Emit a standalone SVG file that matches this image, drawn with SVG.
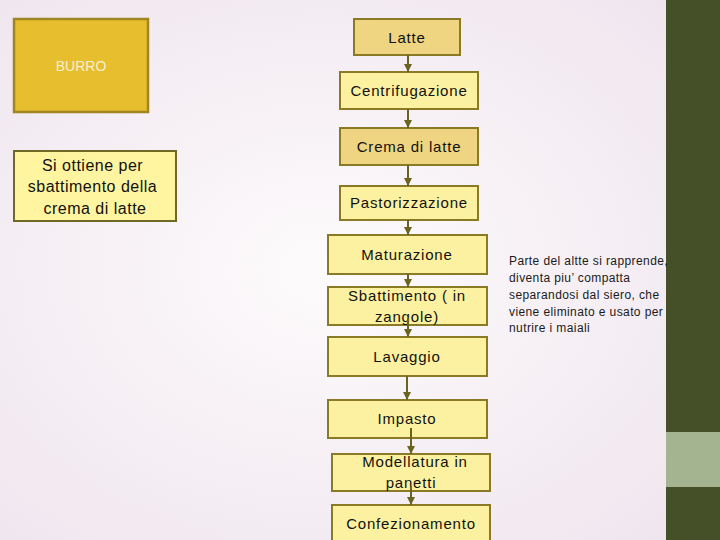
<svg xmlns="http://www.w3.org/2000/svg" width="720" height="540" viewBox="0 0 720 540">
<defs>
<radialGradient id="bg" cx="0.45" cy="0.5" r="0.75">
<stop offset="0" stop-color="#fdfbfc"/>
<stop offset="1" stop-color="#eee3ed"/>
</radialGradient>
<marker id="ah" viewBox="0 0 8 8" refX="8" refY="4" markerWidth="4" markerHeight="4" orient="auto" markerUnits="strokeWidth">
<path d="M0,0 L8,4 L0,8 Z" fill="#6b6420"/>
</marker>
<style>
.flow{stroke:#8a7a26;stroke-width:2}
.light{fill:#fcf1a0}
.dark{fill:#efd581}
.t{font-family:"Liberation Sans",Arial,sans-serif;font-size:15px;letter-spacing:0.8px;fill:#111;text-anchor:middle}
.c{stroke:#6b6420;stroke-width:2;fill:none;marker-end:url(#ah)}
.note{font-family:"Liberation Sans",Arial,sans-serif;font-size:12px;letter-spacing:0.4px;fill:#1a1a1a}
</style>
</defs>
<rect width="720" height="540" fill="url(#bg)"/>
<rect x="666" y="0" width="54" height="540" fill="#454f28"/>
<rect x="666" y="432" width="54" height="55" fill="#a4b490"/>

<g id="burro">
<rect x="14" y="19" width="134" height="93" fill="#e6be2e" stroke="#a08520" stroke-width="2.5"/>
<text x="81" y="71" font-family="Liberation Sans,Arial,sans-serif" font-size="14" fill="#f8f0d0" text-anchor="middle">BURRO</text>
</g>
<g id="si-ottiene">
<rect x="14" y="151" width="162" height="70" fill="#fff5a0" stroke="#6e6a26" stroke-width="2"/>
<text font-family="Liberation Sans,Arial,sans-serif" font-size="16" letter-spacing="0.5" fill="#111" text-anchor="middle">
<tspan x="95" y="171">Si ottiene per</tspan>
<tspan x="95" y="192">sbattimento della</tspan>
<tspan x="95" y="214">crema di latte</tspan>
</text>
</g>

<g id="latte"><rect class="flow dark" x="354" y="19" width="106" height="36"/><text class="t" x="407" y="43">Latte</text></g>
<g id="centrifugazione"><rect class="flow light" x="340" y="72" width="138" height="37"/><text class="t" x="409" y="96">Centrifugazione</text></g>
<g id="crema"><rect class="flow dark" x="340" y="128" width="138" height="37"/><text class="t" x="409" y="152">Crema di latte</text></g>
<g id="pastorizzazione"><rect class="flow light" x="340" y="186" width="138" height="34"/><text class="t" x="409" y="208">Pastorizzazione</text></g>
<g id="maturazione"><rect class="flow light" x="328" y="235" width="159" height="39"/><text class="t" x="407" y="260">Maturazione</text></g>
<g id="sbattimento"><rect class="flow light" x="328" y="287" width="159" height="38"/><text class="t"><tspan x="407" y="301">Sbattimento ( in</tspan><tspan x="407" y="322">zangole)</tspan></text></g>
<g id="lavaggio"><rect class="flow light" x="328" y="337" width="159" height="39"/><text class="t" x="407" y="362">Lavaggio</text></g>
<g id="impasto"><rect class="flow light" x="328" y="400" width="159" height="38"/><text class="t" x="407" y="424">Impasto</text></g>
<g id="modellatura"><rect class="flow light" x="332" y="454" width="158" height="37"/><text class="t"><tspan x="415" y="467">Modellatura in</tspan><tspan x="411" y="488">panetti</tspan></text></g>
<g id="confezionamento"><rect class="flow light" x="332" y="505" width="158" height="40"/><text class="t" x="411" y="529">Confezionamento</text></g>

<g id="connectors">
<line class="c" x1="408" y1="55" x2="408" y2="72"/>
<line class="c" x1="408" y1="109" x2="408" y2="128"/>
<line class="c" x1="408" y1="165" x2="408" y2="186"/>
<line class="c" x1="408" y1="220" x2="408" y2="235"/>
<line class="c" x1="408" y1="274" x2="408" y2="287"/>
<line class="c" x1="408" y1="318" x2="408" y2="337"/>
<line class="c" x1="407" y1="376" x2="407" y2="400"/>
<line class="c" x1="411" y1="428" x2="411" y2="454"/>
<line class="c" x1="411" y1="486" x2="411" y2="505"/>
</g>

<g id="note">
<text class="note">
<tspan x="509" y="265">Parte del altte si rapprende,</tspan>
<tspan x="509" y="282">diventa piu’ compatta</tspan>
<tspan x="509" y="299">separandosi dal siero, che</tspan>
<tspan x="509" y="316">viene eliminato e usato per</tspan>
<tspan x="509" y="332">nutrire i maiali</tspan>
</text>
</g>
</svg>
